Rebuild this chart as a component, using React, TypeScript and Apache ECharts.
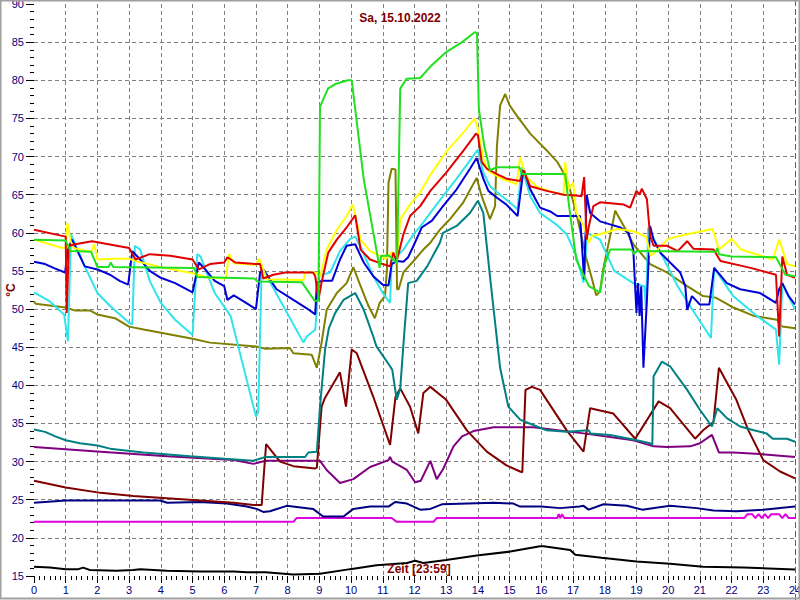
import React, { useEffect, useRef } from "react";
import * as echarts from "echarts";

const xTicks = { min: 0, max: 24, interval: 1 };
const yTicks = { min: 15, max: 90, interval: 5 };
const title = "Sa, 15.10.2022";
const xTitle = "Zeit [23:59]";
const yTitle = "°C";
const nowMarker = 24;

const green = [
  [0, 59.1], [1.0, 59.0], [1.15, 57.6], [1.8, 57.5], [2.0, 55.5], [2.35, 55.5], [2.42, 56.1], [2.5, 55.5], [5.05, 55.4], [5.15, 54.2], [6.95, 54.0], [7.05, 53.6], [8.45, 53.5], [8.85, 51.1], [8.97, 51.1],
  [9.02, 76.5], [9.27, 78.9], [9.5, 79.5], [9.9, 80.0], [10.02, 80.0], [10.4, 67.0], [10.9, 55.4], [10.95, 57.0], [11.2, 57.0], [11.45, 56.0], [11.55, 78.9], [11.75, 80.2], [12.18, 80.3], [12.5, 81.8], [13.0, 83.7], [13.5, 85.0], [13.9, 86.3], [13.97, 86.2],
  [14.03, 76.2], [14.2, 71.4], [14.38, 68.2], [14.6, 68.6], [15.3, 68.6], [15.4, 67.7], [16.75, 67.7], [16.9, 62.7], [17.1, 56.5], [17.5, 53.0], [17.85, 52.2], [18.0, 55.9], [18.17, 57.8], [18.85, 57.8], [18.92, 57.2], [19.0, 57.6],
  [21.5, 57.5], [21.55, 58.0], [21.6, 57.2], [22.0, 56.9], [23.4, 56.8], [23.7, 54.5], [24, 54.3],
];
const yellow = [
  [0, 59.1], [0.9, 58.0], [1.0, 58.0], [1.05, 61.3], [1.15, 59.0], [1.25, 58.0], [1.8, 57.5], [1.9, 58.5], [2.0, 56.5], [2.5, 56.6], [3.0, 56.6], [3.3, 56.2], [4.0, 55.5], [5.0, 54.7], [5.5, 54.1], [6.05, 54.0], [6.15, 57.2], [6.3, 56.0], [7.0, 55.8], [7.1, 56.6], [7.35, 53.9], [8.5, 53.8], [8.55, 54.8], [8.87, 54.8], [9.03, 54.3],
  [9.23, 57.8], [9.55, 60.4], [9.86, 62.2], [10.05, 63.7], [10.13, 62.4], [10.3, 59.1], [10.6, 57.6], [10.8, 57.2], [11.1, 56.6], [11.3, 57.5], [11.45, 56.8], [11.55, 61.8], [11.86, 63.7], [12.18, 65.3], [12.5, 67.6], [12.8, 69.4], [13.0, 70.6], [13.55, 73.2], [13.9, 75.0],
  [14.0, 73.6], [14.17, 69.7], [14.33, 68.1], [14.8, 67.0], [15.22, 66.4], [15.33, 69.9], [15.5, 67.5], [15.86, 66.0], [16.4, 65.3], [16.7, 65.0], [16.75, 69.3], [16.86, 65.7], [17.0, 66.6], [17.1, 62.7], [17.33, 61.0], [17.5, 58.7], [17.6, 59.6], [17.85, 59.8], [18.17, 60.2], [18.4, 60.5], [18.9, 60.2],
  [19.3, 59.5], [19.45, 57.0], [19.6, 57.5], [20.0, 59.2], [20.6, 59.8], [21.4, 60.5], [21.6, 57.8], [22.0, 59.2], [22.3, 57.8], [23.3, 56.5], [23.5, 59.1], [23.75, 55.9], [24, 55.6],
];
const red = [
  [0, 60.4], [1.0, 59.5], [1.03, 49.5], [1.1, 58.3], [1.3, 58.5], [1.83, 58.9], [3.0, 58.0], [3.2, 56.5], [3.65, 57.2], [4.3, 57.0], [5.0, 56.5], [5.2, 55.2], [5.55, 55.9], [6.0, 56.1], [6.1, 56.8], [6.35, 56.1], [7.0, 55.9], [7.13, 55.9], [7.23, 54.0], [7.55, 54.5], [7.92, 54.8], [8.5, 54.8], [8.8, 54.8], [8.87, 54.3], [8.97, 51.2],
  [9.07, 53.5], [9.28, 57.4], [9.55, 59.1], [9.86, 60.7], [10.13, 62.3], [10.3, 57.8], [10.6, 56.5], [11.0, 55.9], [11.23, 55.6], [11.33, 57.4], [11.44, 56.3], [11.65, 59.8], [11.86, 62.2], [12.18, 63.5], [12.5, 65.5], [13.0, 67.9], [13.55, 70.8], [13.94, 73.0],
  [14.0, 72.8], [14.12, 69.3], [14.28, 68.4], [14.6, 67.7], [14.9, 67.1], [15.33, 66.8], [15.44, 68.2], [15.65, 66.1], [16.17, 65.5], [16.7, 65.0], [17.1, 64.9], [17.27, 64.8], [17.35, 67.3], [17.43, 59.1], [17.5, 60.9], [17.64, 63.5], [17.85, 64.0], [18.6, 63.7], [18.8, 63.3],
  [19.0, 65.5], [19.1, 65.0], [19.17, 65.8], [19.33, 64.4], [19.43, 59.6], [19.54, 58.3], [19.96, 58.3], [20.3, 57.6], [20.6, 58.9], [20.8, 57.9], [21.43, 57.8], [21.65, 56.3], [22.6, 55.4], [23.4, 54.5], [23.5, 46.4], [23.6, 56.9], [23.75, 54.5], [24, 54.1],
];
const blue = [
  [0, 56.2], [0.35, 55.9], [0.67, 55.3], [0.98, 54.8], [1.07, 57.8], [1.2, 59.1], [1.35, 57.8], [1.6, 55.6], [2.0, 55.2], [2.4, 54.5], [2.7, 53.7], [2.97, 53.2], [3.1, 57.6], [3.35, 56.5], [3.65, 55.0], [4.0, 54.1], [4.45, 53.4], [5.0, 52.2], [5.2, 56.1], [5.4, 55.2], [5.7, 53.7], [6.0, 53.0], [6.1, 51.2], [6.3, 51.8], [6.65, 50.9], [7.0, 50.0],
  [7.13, 54.8], [7.23, 55.2], [7.65, 52.6], [8.18, 51.2], [8.6, 50.1], [8.87, 49.3], [8.92, 53.4], [9.07, 53.7], [9.4, 53.7], [9.65, 56.5], [9.86, 58.3], [10.13, 58.5], [10.4, 56.1], [10.7, 54.3], [11.0, 53.2], [11.18, 53.1], [11.28, 55.9], [11.44, 56.3], [11.65, 56.2], [11.8, 56.8], [11.97, 58.3], [12.23, 60.7], [12.55, 61.6], [12.9, 63.5], [13.33, 65.7], [13.75, 68.4], [13.96, 69.8],
  [14.17, 67.1], [14.33, 65.5], [14.6, 64.6], [14.9, 63.7], [15.25, 62.2], [15.44, 68.4], [15.65, 65.7], [15.96, 63.3], [16.28, 62.8], [16.5, 62.2], [17.22, 62.2], [17.35, 53.9], [17.43, 65.0], [17.54, 62.6], [17.85, 61.5], [18.17, 61.1], [18.5, 60.7], [18.75, 60.0], [18.9, 57.8],
  [19.0, 49.5], [19.05, 53.4], [19.1, 49.1], [19.15, 53.0], [19.22, 42.3], [19.33, 51.2], [19.43, 60.9], [19.54, 59.1], [19.75, 57.4], [20.06, 56.1], [20.38, 54.8], [20.54, 53.0], [20.6, 49.9], [20.75, 51.7], [21.0, 50.6], [21.3, 50.6], [21.45, 55.4], [21.85, 53.4], [22.27, 52.6], [22.9, 52.1], [23.4, 50.8], [23.5, 52.6], [23.6, 53.4], [23.8, 51.7], [24, 50.6],
];
const cyan = [
  [0, 52.2], [0.5, 51.0], [0.95, 49.3], [1.07, 45.8], [1.17, 59.8], [1.26, 58.9], [1.6, 55.6], [2.0, 52.1], [2.4, 50.4], [3.0, 48.2], [3.1, 48.0], [3.18, 58.3], [3.35, 57.8], [3.65, 53.7], [4.0, 50.8], [4.45, 48.6], [5.0, 46.6], [5.15, 57.2], [5.25, 56.9], [5.7, 52.1], [6.2, 49.1], [7.0, 35.9], [7.07, 36.5],
  [7.18, 55.4], [7.25, 55.0], [8.5, 45.6], [8.6, 46.4], [8.87, 47.3], [8.92, 49.9], [8.97, 54.1], [9.07, 54.5], [9.34, 54.8], [9.65, 57.6], [9.97, 59.2], [10.13, 59.5], [10.34, 57.8], [10.7, 54.3], [11.0, 52.1], [11.23, 50.8], [11.28, 56.5], [11.44, 56.9], [11.65, 57.8], [11.97, 59.8], [12.23, 61.1], [12.5, 62.6], [12.9, 64.8], [13.33, 67.1], [13.75, 69.5], [14.0, 70.9],
  [14.17, 67.9], [14.38, 66.1], [14.7, 65.0], [15.0, 64.0], [15.25, 63.1], [15.38, 68.6], [15.65, 64.8], [15.96, 62.6], [16.5, 61.0], [16.8, 59.8], [17.1, 57.0], [17.33, 53.5], [17.45, 60.0], [17.85, 59.1], [18.3, 55.0], [18.9, 53.4], [19.25, 53.0], [19.3, 50.0], [19.37, 60.7],
  [19.75, 57.5], [20.3, 53.0], [20.75, 50.0], [21.35, 46.2], [21.45, 55.4], [22.05, 51.7], [22.8, 49.1], [23.4, 47.3], [23.5, 42.7], [23.6, 53.4], [23.75, 52.0], [24, 50.0],
];
const olive = [
  [0, 51.0], [0.05, 50.7], [1.0, 50.2], [1.3, 49.8], [1.77, 49.8], [2.0, 49.3], [2.55, 48.8], [3.0, 47.7], [3.5, 47.3], [4.13, 46.8], [5.0, 46.1], [5.55, 45.6], [7.0, 45.1], [7.3, 44.8], [8.07, 44.9], [8.18, 44.2], [8.76, 44.0], [8.92, 42.3],
  [9.07, 45.6], [9.23, 49.9], [9.55, 52.1], [9.86, 53.4], [10.07, 55.5], [10.3, 53.0], [10.55, 50.4], [10.75, 48.8], [10.9, 50.8], [11.07, 51.7], [11.13, 55.2], [11.18, 66.6], [11.28, 68.4], [11.4, 68.3], [11.45, 52.6], [11.5, 52.6], [11.65, 54.8], [11.97, 56.3], [12.28, 57.8], [12.5, 58.7], [12.8, 60.4], [13.12, 61.8], [13.54, 64.0], [13.96, 67.2],
  [14.12, 64.8], [14.38, 61.8], [14.54, 63.5], [14.6, 71.4], [14.7, 76.7], [14.86, 78.2], [15.0, 76.7], [15.22, 75.4], [15.65, 73.0], [16.17, 70.8], [16.5, 69.3], [16.75, 67.5], [16.9, 65.7], [17.1, 62.6], [17.43, 56.5], [17.6, 53.9], [17.73, 51.8], [17.85, 52.3], [17.95, 55.2], [18.17, 59.6], [18.33, 62.9], [18.6, 60.9], [18.9, 58.5],
  [19.43, 55.9], [19.96, 54.8], [20.6, 53.0], [21.1, 51.7], [21.5, 51.5], [22.06, 50.2], [22.7, 49.1], [23.43, 48.6], [23.6, 47.7], [24, 47.5],
];
const teal = [
  [0, 34.2], [0.35, 33.9], [0.67, 33.3], [1.0, 32.8], [1.45, 32.4], [2.0, 32.1], [2.4, 31.7], [3.45, 31.2], [4.92, 30.7], [6.9, 30.1], [7.3, 30.6], [8.55, 30.6], [8.65, 31.2], [8.92, 31.3],
  [9.02, 37.2], [9.18, 44.7], [9.3, 47.5], [9.5, 49.5], [9.76, 51.2], [10.13, 52.1], [10.4, 49.9], [10.7, 46.4], [10.8, 45.1], [11.23, 42.5], [11.3, 42.0], [11.44, 38.1], [11.55, 39.6], [11.65, 45.3], [11.8, 53.4], [12.07, 53.7], [12.4, 55.6], [12.8, 58.7], [12.9, 60.0], [13.33, 60.9], [13.75, 62.6], [14.0, 64.2],
  [14.17, 62.6], [14.38, 54.3], [14.7, 42.3], [14.96, 37.2], [15.33, 35.5], [15.86, 34.6], [16.17, 34.1], [16.8, 33.9], [17.49, 34.1], [17.55, 33.7], [18.17, 33.5], [18.9, 32.9], [19.43, 32.4], [19.5, 32.2],
  [19.54, 41.2], [19.8, 43.1], [20.06, 42.5], [20.6, 39.4], [21.0, 36.8], [21.38, 34.6], [21.55, 37.0], [21.85, 35.7], [22.27, 34.6], [22.7, 34.1], [23.1, 33.7], [23.3, 33.0], [23.75, 33.0], [24, 32.6],
];
const maroon = [
  [0, 27.5], [1.0, 26.6], [2.1, 25.9], [3.13, 25.5], [4.19, 25.2], [5.24, 24.9], [6.3, 24.6], [6.92, 24.3], [7.18, 24.3], [7.25, 28.4], [7.32, 32.3], [7.76, 30.0], [8.18, 29.4], [8.87, 29.1], [8.92, 29.2],
  [9.07, 37.2], [9.17, 38.3], [9.65, 41.7], [9.84, 37.2], [10.02, 44.7], [10.18, 44.2], [10.7, 38.5], [11.23, 32.2], [11.4, 38.5], [11.55, 39.6], [11.86, 37.2], [12.12, 33.7], [12.28, 39.0], [12.5, 39.8], [13.0, 38.1], [13.65, 34.1], [14.28, 31.3], [14.9, 29.5], [15.33, 28.7], [15.4, 28.6],
  [15.5, 39.4], [15.7, 39.8], [15.96, 39.4], [16.8, 34.1], [17.33, 31.3], [17.54, 37.0], [18.27, 36.3], [18.96, 33.0], [19.7, 37.9], [20.06, 37.0], [20.85, 33.0], [21.1, 34.1], [21.43, 35.2], [21.6, 42.3], [22.15, 38.1], [22.53, 34.1], [23.0, 30.2], [23.53, 28.7], [24, 27.8],
];
const purple = [
  [0, 31.9], [2.1, 31.3], [4.2, 30.7], [6.3, 30.2], [6.92, 29.7], [7.3, 30.1], [9.02, 30.1], [9.23, 28.9], [9.65, 27.2], [10.07, 27.7], [10.6, 29.3], [11.18, 30.2], [11.23, 30.6], [11.3, 30.0], [11.76, 28.9], [12.02, 27.3], [12.2, 27.5], [12.5, 30.1], [12.7, 27.7], [12.9, 29.0],
  [13.23, 32.0], [13.5, 33.3], [13.86, 34.0], [14.5, 34.5], [15.75, 34.5], [17.33, 33.7], [18.9, 32.8], [19.54, 32.0], [19.96, 31.9], [20.7, 32.0], [21.0, 32.4], [21.38, 33.5], [21.6, 31.2], [22.06, 31.2], [22.9, 31.0], [24, 30.6],
];
const navy = [
  [0, 24.6], [1.0, 24.9], [3.97, 24.9], [4.2, 24.6], [5.24, 24.7], [6.08, 24.5], [6.71, 24.1], [7.02, 23.8], [7.23, 23.4], [7.44, 23.5], [7.97, 24.2], [8.8, 23.8], [9.12, 22.8], [9.76, 22.8], [10.07, 23.8], [10.6, 24.1], [11.18, 24.1], [11.39, 24.7], [11.76, 24.5], [12.18, 23.7], [12.5, 23.8], [12.86, 24.4],
  [14.5, 24.6], [15.12, 24.5], [15.33, 24.1], [16.0, 24.1], [16.59, 23.9], [17.2, 24.1], [17.33, 24.2], [17.49, 23.7], [17.96, 24.4], [18.7, 24.2], [19.18, 23.7], [20.06, 24.2], [20.9, 23.9], [21.43, 23.6], [22.15, 23.5], [23.0, 23.7], [24, 24.1],
];
const magenta = [
  [0, 22.1], [8.18, 22.1], [8.28, 22.6], [11.28, 22.6], [11.44, 22.1], [12.6, 22.1], [12.7, 22.6], [16.5, 22.6], [16.55, 23.1], [16.6, 22.6], [16.65, 23.1], [16.72, 22.6],
  [22.4, 22.6], [22.5, 23.1], [22.65, 23.1], [22.75, 22.6], [22.85, 23.1], [22.95, 22.6], [23.05, 23.1], [23.15, 22.6], [23.25, 23.1], [23.5, 23.1], [23.6, 22.6], [23.7, 23.1], [23.8, 22.6], [24, 22.6],
];
const black = [
  [0, 16.2], [0.5, 16.1], [1.0, 15.9], [1.4, 15.9], [1.55, 16.1], [1.75, 15.8], [2.6, 15.7], [3.13, 15.8], [3.35, 15.9], [4.19, 15.7], [5.24, 15.6], [6.3, 15.6], [6.71, 15.5], [7.3, 15.5], [8.18, 15.2], [9.02, 15.3], [9.97, 15.9], [10.8, 16.4], [11.76, 16.7], [12.02, 17.0], [12.28, 16.7],
  [13.0, 17.1], [13.96, 17.7], [15.02, 18.2], [15.96, 18.9], [16.07, 18.9], [16.91, 18.4], [17.07, 17.8], [17.9, 17.4], [19.0, 16.9], [20.06, 16.6], [21.1, 16.2], [22.38, 16.1], [24, 15.85],
];

const seriesList: [string, number[][], string][] = [
  ["black", black, "#000000"],
  ["magenta", magenta, "#e000e0"],
  ["navy", navy, "#000080"],
  ["purple", purple, "#800080"],
  ["maroon", maroon, "#800000"],
  ["teal", teal, "#008080"],
  ["olive", olive, "#808000"],
  ["cyan", cyan, "#30e4ec"],
  ["blue", blue, "#0000d8"],
  ["yellow", yellow, "#ffff00"],
  ["red", red, "#e00000"],
  ["green", green, "#20e020"],
];

export default function App() {
  const ref = useRef<HTMLDivElement>(null);
  useEffect(() => {
    if (!ref.current) return;
    const chart = echarts.init(ref.current, null, { renderer: "svg" });
    const labelStyle = { color: "#000080", fontFamily: "Liberation Sans, Arial, sans-serif", fontSize: 11 };
    const series: any[] = seriesList.map(([name, data, color], i) => ({
      name,
      type: "line",
      data,
      showSymbol: false,
      symbol: "none",
      silent: true,
      lineStyle: { color, width: 2 },
      itemStyle: { color },
      z: 2 + i * 0.01,
    }));
    const textFont = "bold 12px 'Liberation Sans', Arial, sans-serif";
    const baseGraphics: any[] = [
      {
        type: "rect",
        shape: { x: 0.5, y: 0.5, width: 799, height: 598 },
        style: { fill: "none", stroke: "#a0a0a0", lineWidth: 2 },
        silent: true,
        z: 100,
      },
      {
        type: "text",
        x: 400,
        y: 18,
        style: { text: title, fill: "#800000", font: textFont, textAlign: "center", textVerticalAlign: "middle" },
        z: 100,
      },
      {
        type: "text",
        x: 419,
        y: 569,
        style: { text: xTitle, fill: "#800000", font: textFont, textAlign: "center", textVerticalAlign: "middle" },
        z: 100,
      },
      {
        type: "text",
        x: 11,
        y: 290,
        rotation: Math.PI / 2,
        style: { text: yTitle, fill: "#800000", font: textFont, textAlign: "center", textVerticalAlign: "middle" },
        z: 100,
      },
    ];
    chart.setOption({
      animation: false,
      backgroundColor: "#ffffff",
      grid: { left: 34, right: 5, top: 4, bottom: 24, containLabel: false, outerBoundsMode: "none" },
      xAxis: {
        type: "value",
        min: xTicks.min,
        max: xTicks.max,
        interval: xTicks.interval,
        axisLine: { show: false },
        axisTick: { show: true, length: 7, lineStyle: { color: "#000000" } },
        minorTick: { show: true, splitNumber: 6, length: 4, lineStyle: { color: "#000000" } },
        axisLabel: { ...labelStyle, margin: 8 },
        splitLine: { show: true, showMinLine: false, showMaxLine: false, lineStyle: { color: "#808080", type: [4, 3], width: 1 } },
      },
      yAxis: {
        type: "value",
        min: yTicks.min,
        max: yTicks.max,
        interval: yTicks.interval,
        axisLine: { show: false },
        axisTick: { show: true, length: 8, lineStyle: { color: "#000000" } },
        minorTick: { show: true, splitNumber: 5, length: 4, lineStyle: { color: "#000000" } },
        axisLabel: { ...labelStyle, margin: 10 },
        splitLine: { show: true, showMinLine: false, showMaxLine: false, lineStyle: { color: "#808080", type: [4, 3], width: 1 } },
      },
      graphic: baseGraphics,
      series,
    });
    // "now" marker: a dashed green line across the full height at the x scale position of nowMarker
    const px = chart.convertToPixel({ xAxisIndex: 0 }, nowMarker) as number;
    chart.setOption({
      graphic: [
        ...baseGraphics,
        {
          type: "line",
          shape: { x1: Math.round(px) + 0.5, y1: 0, x2: Math.round(px) + 0.5, y2: 600 },
          style: { stroke: "#00a000", lineWidth: 1, lineDash: [6, 3] },
          silent: true,
          z: 90,
        },
      ],
    });
    return () => chart.dispose();
  }, []);
  return <div ref={ref} style={{ position: "absolute", left: 0, top: 0, width: 800, height: 600, background: "#fff" }} />;
}
